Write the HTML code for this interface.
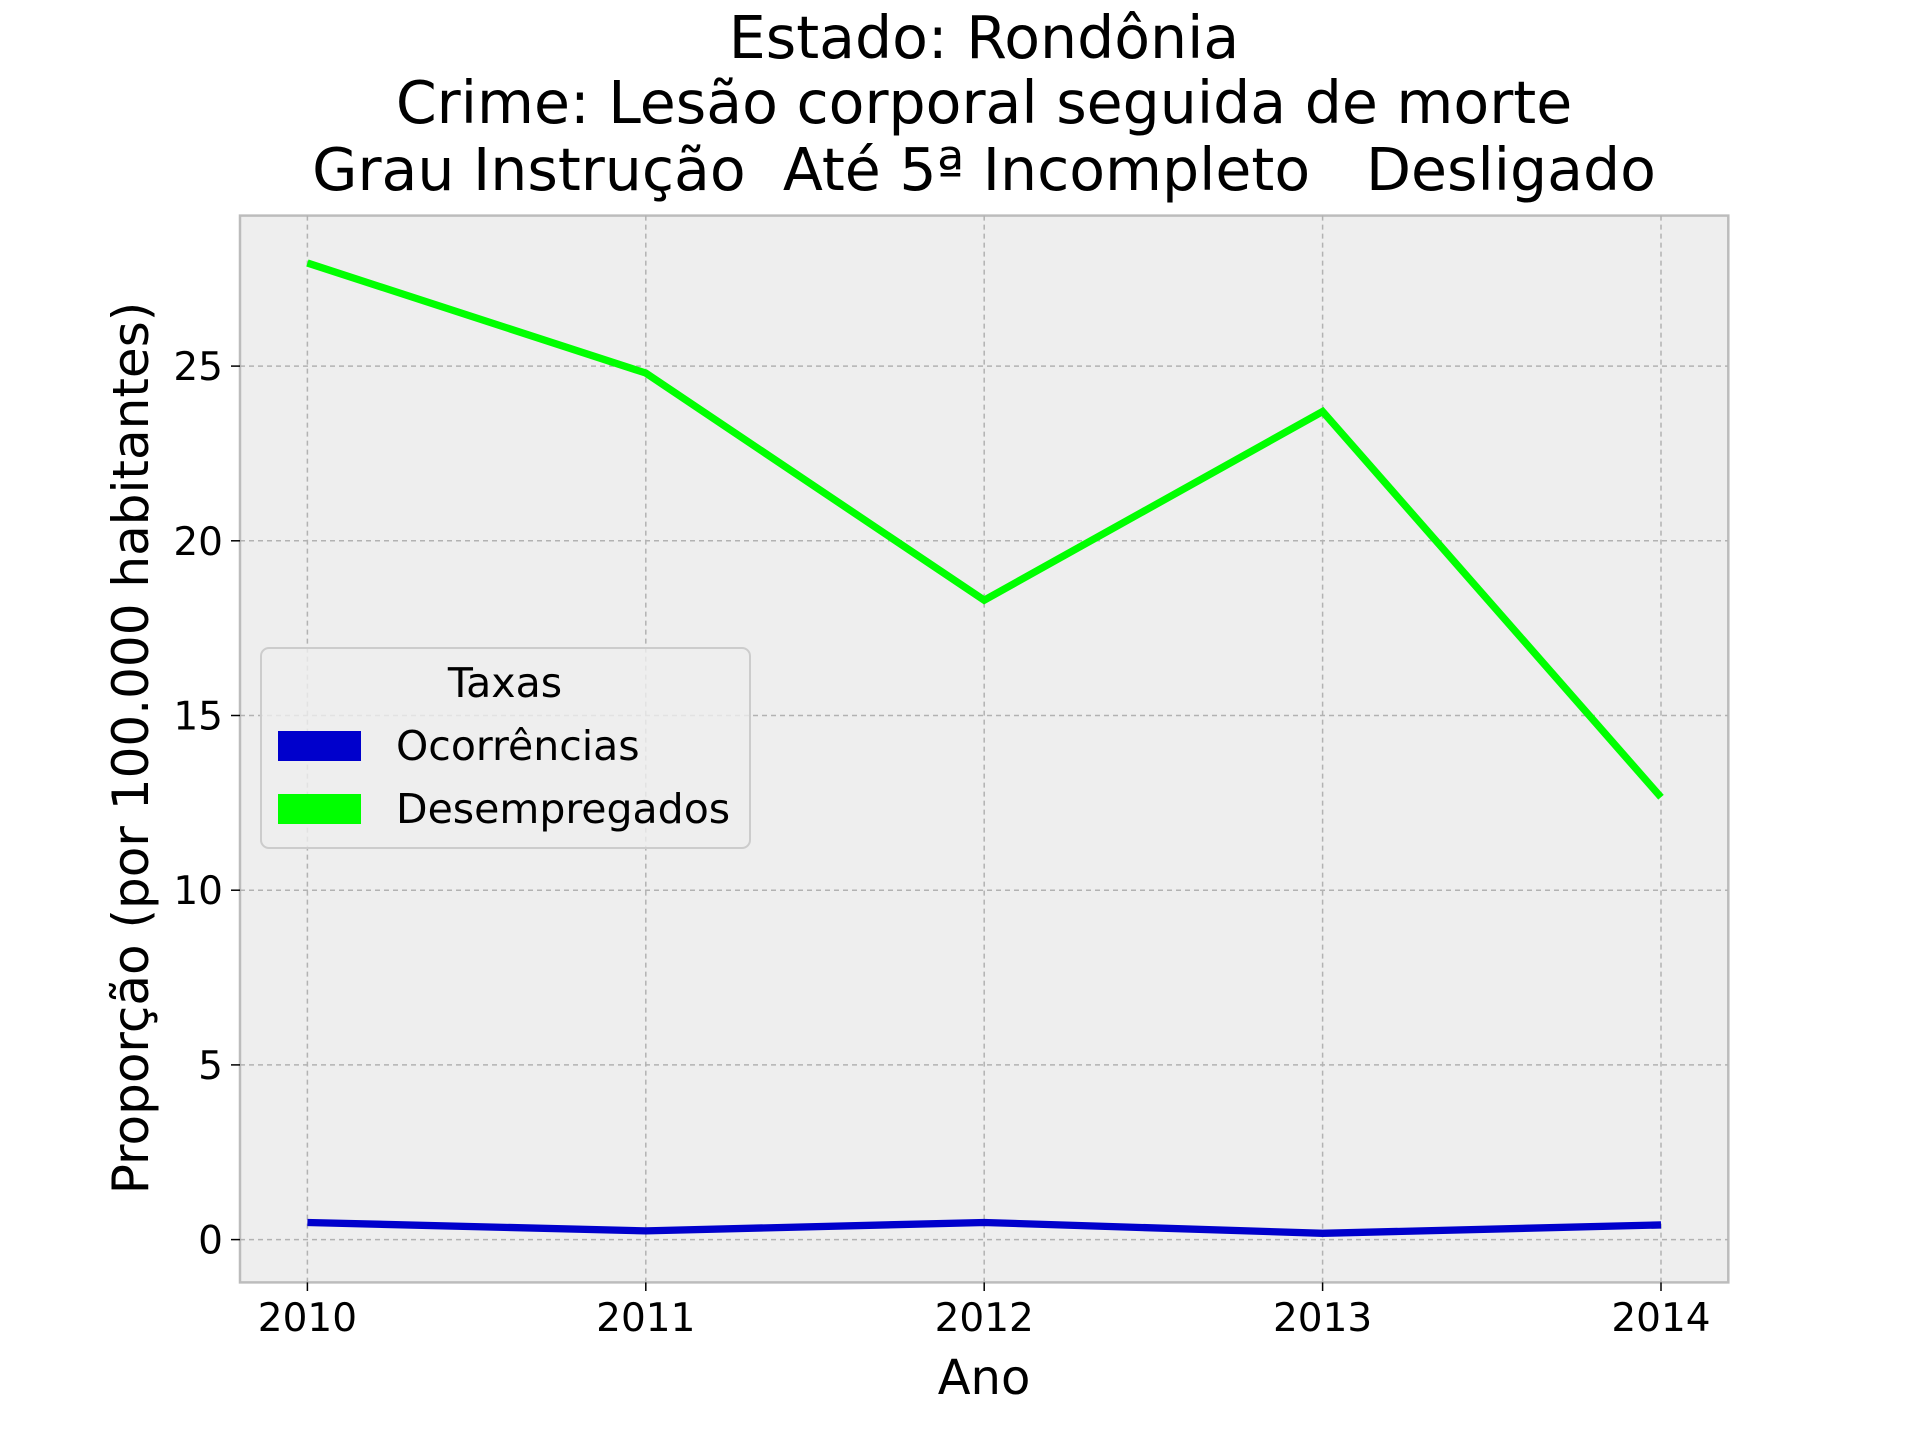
<!DOCTYPE html>
<html><head><meta charset="utf-8"><style>body{margin:0;background:#fff}svg{display:block;font-family:"DejaVu Sans","Liberation Sans",sans-serif}text{white-space:pre}</style></head>
<body>
<svg id="chart" width="1920" height="1440" xmlns="http://www.w3.org/2000/svg" xml:space="preserve">
<rect width="1920" height="1440" fill="#fff"/>
<g font-size="58.5" text-anchor="middle" fill="#000">
<text x="984" y="58">Estado: Rondônia</text>
<text x="984" y="123">Crime: Lesão corporal seguida de morte</text>
<text x="984" y="190">Grau Instrução  Até 5ª Incompleto   Desligado</text>
</g>
<rect x="240" y="215.6" width="1488.3" height="1066.8" fill="#eeeeee" stroke="#bcbcbc" stroke-width="2.5"/>
<g id="grid"></g><g id="ticks"></g><g id="series"></g>
<text x="984" y="1394" font-size="48" text-anchor="middle">Ano</text>
<text x="0" y="0" font-size="50" text-anchor="middle" transform="translate(148,748) rotate(-90)">Proporção (por 100.000 habitantes)</text>
<g>
<rect x="261" y="648" width="489" height="200" rx="8" fill="#eeeeee" fill-opacity="0.8" stroke="#cccccc" stroke-width="2"/>
<text x="505" y="697" font-size="41" text-anchor="middle">Taxas</text>
<rect x="278" y="731" width="83" height="30" fill="#0000cc"/>
<text x="396" y="760" font-size="41">Ocorrências</text>
<rect x="278" y="794" width="83" height="30" fill="#00ff00"/>
<text x="396" y="823" font-size="41">Desempregados</text>
</g>
</svg>
<script>
const years=[2010,2011,2012,2013,2014];
const ocorrencias=[0.49,0.25,0.49,0.18,0.42];
const desempregados=[27.95,24.8,18.3,23.7,12.66];
const yTicks=[0,5,10,15,20,25];
const NS="http://www.w3.org/2000/svg";
const xs=v=>307.4+(v-2010)*(1661-307.4)/4;
const ys=v=>1239.6-v*34.94;
function mk(t,a,p){const e=document.createElementNS(NS,t);for(const k in a)e.setAttribute(k,a[k]);p.appendChild(e);return e;}
const grid=document.getElementById('grid'),ticks=document.getElementById('ticks'),ser=document.getElementById('series');
years.forEach(y=>{
 const l=mk('line',{x1:xs(y),x2:xs(y),y1:215.6,y2:1282.4,stroke:'#b2b2b2','stroke-width':1.5,'stroke-dasharray':'5,4'},grid);
 
 
 const tk=mk('line',{x1:xs(y),x2:xs(y),y1:1282.4,y2:1291,stroke:'#000','stroke-width':1.5},ticks);
 
 
 const t=mk('text',{x:xs(y),y:1331,'font-size':39,'text-anchor':'middle'},ticks);t.textContent=y;
 
 
});
yTicks.forEach(v=>{
 const l=mk('line',{x1:240,x2:1728,y1:ys(v),y2:ys(v),stroke:'#b2b2b2','stroke-width':1.5,'stroke-dasharray':'5,4'},grid);
 
 
 const tk=mk('line',{x1:231,x2:240,y1:ys(v),y2:ys(v),stroke:'#000','stroke-width':1.5},ticks);
 
 
 const t=mk('text',{x:223,y:ys(v)+14,'font-size':39,'text-anchor':'end'},ticks);t.textContent=v;
 
 
});
function line(vals,color,name){
 const p=mk('polyline',{points:vals.map((v,i)=>xs(years[i])+','+ys(v)).join(' '),fill:'none',stroke:color,'stroke-width':7.3},ser);
 
 
}
line(ocorrencias,'#0000cc','ocorrencias-line');
line(desempregados,'#00ff00','desempregados-line');
</script>
</body></html>
